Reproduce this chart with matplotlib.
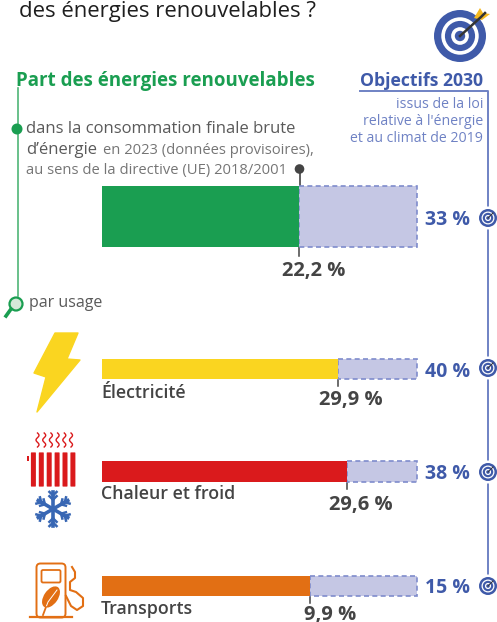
import matplotlib
matplotlib.use('Agg')
import matplotlib.pyplot as plt
from matplotlib.patches import Circle, Polygon, Rectangle, FancyBboxPatch, Ellipse
import numpy as np

plt.rcParams['font.family'] = ['Open Sans', 'DejaVu Sans']

# Data
usages = ['Global', 'Électricité', 'Chaleur et froid', 'Transports']
share_labels = ['22,2 %', '29,9 %', '29,6 %', '9,9 %']
target_labels = ['33 %', '40 %', '38 %', '15 %']
# how far each bar is filled towards its target, as drawn (percent)
filled_pct = [62.5, 74.8, 77.9, 66.0]
target_pct = [100, 100, 100, 100]
bar_colors = ['#1a9e51', '#fad520', '#da1a1c', '#e26f14']

W, H = 497, 622
GREEN = '#1a9e51'
BLUE = '#3f5aa9'
LIGHT_BLUE = '#6f82c4'
GREY = '#444444'
TEXT = '#5a5a5a'
PALE = '#c5c7e4'

fig = plt.figure(figsize=(W / 100, H / 100), dpi=100)

# page axes in pixel coordinates for the text and pictograms
ax = fig.add_axes([0, 0, 1, 1])
ax.set_xlim(0, W)
ax.set_ylim(H, 0)
ax.axis('off')

# bar axes: spans x 102-417 px of the page, y kept in page pixels
bx = fig.add_axes([102 / W, 0, 315 / W, 1])
bx.set_xlim(0, 100)
bx.set_ylim(H, 0)
bx.axis('off')
bx.patch.set_alpha(0)

bar_y = [216.5, 369, 471.5, 586]
bar_h = [61, 20, 21, 20]
gaps = [t - f for t, f in zip(target_pct, filled_pct)]
pale = bx.barh(bar_y, gaps, left=filled_pct, height=bar_h, color=PALE, edgecolor='#7f8ccc',
               linewidth=1.2, linestyle=(0, (3, 2)))
for p in pale:
    p.set_clip_on(False)
bx.barh(bar_y, filled_pct, height=bar_h, color=bar_colors)


def px(value):
    return 102 + value / 100 * 315


def target(x, y, r):
    for k, c in zip([1, 0.72, 0.58, 0.34, 0.2], [BLUE, 'white', BLUE, 'white', BLUE]):
        ax.add_patch(Circle((x, y), r * k, fc=c, ec='none', zorder=5))


# header
ax.text(19, 17, 'des énergies renouvelables ?', fontsize=15.9, color='#1e1e1e', va='baseline')
target(460, 36, 26)
ax.plot([460, 481, 485], [36, 17, 13], color='#333333', lw=1.8, zorder=6)
ax.add_patch(Polygon([(474, 18), (480, 8), (483, 13), (490, 14), (482, 20)],
                     fc='#f5b81f', ec='none', zorder=5))

ax.text(16, 86, 'Part des énergies renouvelables', fontsize=13.5, color=GREEN,
        fontweight='bold', va='baseline')
ax.text(360, 86, 'Objectifs 2030', fontsize=12.7, color=BLUE, fontweight='bold', va='baseline')

# green guide
ax.plot([17.5, 17.5], [88, 296], color='#4fb577', lw=1.2)
ax.add_patch(Circle((17, 129), 5.5, fc=GREEN, ec='none', zorder=3))
ax.add_patch(Circle((16, 304), 6.5, fc='#d5e8d9', ec=GREEN, lw=1.6, zorder=3))
ax.plot([11, 6], [309, 316], color=GREEN, lw=2.6, zorder=3)

# blue guide
ax.plot([360, 488, 488], [90.5, 90.5, 578], color=LIGHT_BLUE, lw=1.4)
for lab, y in zip(['issus de la loi', "relative à l'énergie", 'et au climat de 2019'], [108, 125, 142]):
    ax.text(483, y, lab, fontsize=10.2, color=LIGHT_BLUE, ha='right', va='baseline')

# description
ax.text(26, 133, 'dans la consommation finale brute', fontsize=12, color=TEXT, va='baseline')
ax.text(26, 154, 'd’énergie', fontsize=12, color=TEXT, va='baseline')
ax.text(103, 154, 'en 2023 (données provisoires),', fontsize=10.6, color='#757575', va='baseline')
ax.text(26, 174, 'au sens de la directive (UE) 2018/2001', fontsize=10.6, color='#757575', va='baseline')
ax.text(29, 307, 'par usage', fontsize=11.5, color=TEXT, va='baseline')

# ticks under each bar, and values
tick_end = [256, 386, 489, 603]
share_x = [282, 319, 329, 304]
share_y = [276, 405, 510, 620]
target_y = [225, 377, 479, 593]
icon_y = [218, 368, 472, 586]
for i in range(4):
    x = px(filled_pct[i])
    top = bar_y[i] + bar_h[i] / 2
    ax.plot([x, x], [top, tick_end[i]], color=GREY, lw=1.1)
    ax.text(share_x[i], share_y[i], share_labels[i], fontsize=14.5, color=GREY, fontweight='bold',
            ha='left', va='baseline')
    ax.text(470, target_y[i], target_labels[i], fontsize=14, color=BLUE,
            fontweight='bold', ha='right', va='baseline')
    ax.add_patch(Circle((488, icon_y[i]), 11.5, fc='white', ec='none', zorder=4))
    target(488, icon_y[i], 9)
    ax.plot([488, 493], [icon_y[i], icon_y[i] - 5], color='#333333', lw=0.7, zorder=6)

ax.plot([299.5, 299.5], [169, 186], color=GREY, lw=1.2)
ax.add_patch(Circle((299.5, 169), 4.8, fc=GREY, ec='none'))

# row names
for name, y in zip(usages[1:], [398, 499, 614]):
    ax.text(101, y, name, fontsize=12.8, color=GREY, fontweight='semibold', va='baseline')

# lightning bolt
ax.add_patch(Polygon([(55, 333), (78, 333), (67, 359), (80, 360), (37, 412), (46, 377), (34, 373)],
                     fc='#fad520', ec='#fad520', lw=1, joinstyle='round'))

# radiator
RED = '#da1a1c'
for k in range(6):
    ax.add_patch(FancyBboxPatch((31.5 + k * 7.9, 453), 3.8, 33, boxstyle='round,pad=0.6',
                                fc=RED, ec='none'))
ax.add_patch(Rectangle((26.5, 456), 2.5, 5, fc=RED, ec='none'))
t = np.linspace(0, 1, 30)
for k in range(6):
    ax.plot(37.5 + k * 6.7 + 1.5 * np.sin(t * 3 * np.pi), 433 + t * 14, color=RED, lw=1)

# snowflake
SNOW = '#3867b4'
for a in np.arange(6) * np.pi / 3 + np.pi / 2:
    c, s = np.cos(a), np.sin(a)
    ax.plot([53, 53 + 17 * c], [509, 509 + 17 * s], color=SNOW, lw=2.6)
    for d in (0.55, 0.8):
        mx, my = 53 + 17 * d * c, 509 + 17 * d * s
        for da in (0.8, -0.8):
            ax.plot([mx, mx + 5 * np.cos(a + da)], [my, my + 5 * np.sin(a + da)], color=SNOW, lw=1.8)

# fuel pump
ORANGE = '#e26f14'
ax.add_patch(FancyBboxPatch((37, 564), 28, 53, boxstyle='round,pad=0.5,rounding_size=4',
                            fc='white', ec=ORANGE, lw=1.4))
ax.add_patch(FancyBboxPatch((41.5, 570), 19, 12.5, boxstyle='round,pad=0,rounding_size=1.5',
                            fc='white', ec=ORANGE, lw=1.3))
ax.plot([30, 72], [617, 617], color=ORANGE, lw=1.6)
ax.add_patch(Ellipse((51, 597), 14, 24, angle=35, fc=ORANGE, ec='none'))
ax.plot([43, 48, 57], [615, 602, 590], color='white', lw=0.7)
ax.plot([43, 46], [615, 607], color=ORANGE, lw=1.3)
ax.plot([72, 75, 75, 70, 70, 76, 83, 83, 77, 71, 66],
        [567, 572, 578, 582, 590, 592, 598, 606, 610, 606, 596], color=ORANGE, lw=1.5)

fig.savefig('out.png', dpi=100)
